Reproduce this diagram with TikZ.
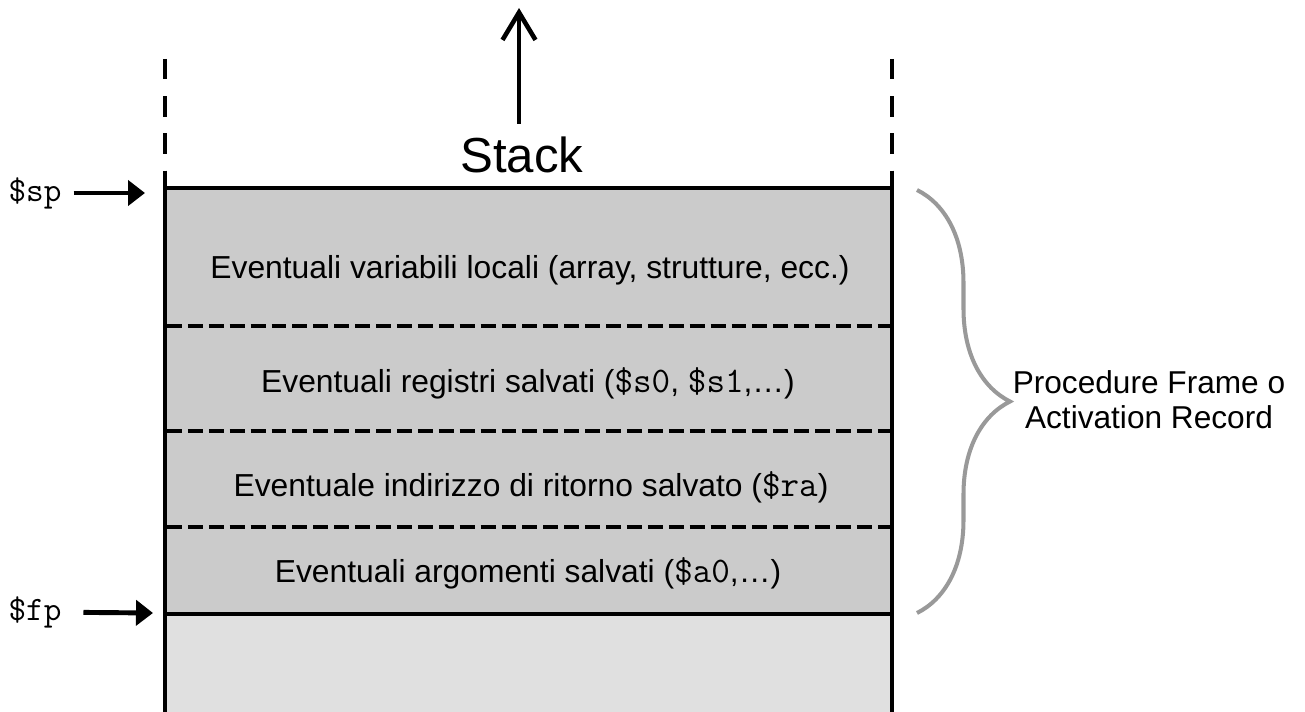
\documentclass[tikz,border=0pt]{standalone}
\usepackage{fontspec}
\setmainfont{Liberation Sans}
\usetikzlibrary{arrows.meta,decorations.pathreplacing,positioning}
\definecolor{FrameInk}{HTML}{000000}
\definecolor{FrameFill}{HTML}{CBCBCB}
\definecolor{FrameLight}{HTML}{E0E0E0}
\definecolor{BraceGray}{HTML}{999999}
\newcommand{\regname}[1]{{\fontsize{20.5}{22}\selectfont\ttfamily #1}}
\tikzset{
  every node/.style={text=FrameInk},
  wall/.style={draw=FrameInk, line width=2.8pt},
  openwall/.style={draw=FrameInk, line width=2.8pt, dash pattern=on 11.6pt off 9.6pt},
  divider/.style={draw=FrameInk, line width=2.8pt, dash pattern=on 8.5pt off 3.4pt},
  slot/.style={font=\fontsize{18.1}{22}\selectfont},
  register/.style={font=\fontsize{19.5}{22}\selectfont\ttfamily},
  pointer/.style={-{Triangle[length=3.4mm,width=5mm]}, draw=FrameInk, line width=2.8pt},
  growth/.style={-{Straight Barb[length=5.5mm,width=6.6mm]}, draw=FrameInk, line width=2.6pt},
  bracket/.style={decorate, decoration={brace, amplitude=18.6mm}, draw=BraceGray, line width=2.3pt},
}

\begin{document}
\begin{tikzpicture}[x=0.02cm,y=-0.02cm]
  \useasboundingbox (0,0) rectangle (1305,712);
  % Frame cells, dark above the frame pointer, light below
  \fill[FrameFill] (165,188) rectangle (892,614);
  \fill[FrameLight] (165,614) rectangle (892,712);
  % Stack walls, open towards the top
  \foreach \x in {165,892}{
    \draw[openwall] (\x,59) -- (\x,171);
    \draw[wall] (\x,171) -- (\x,712);
  }
  % Frame limits
  \draw[wall] (165,188) -- (892,188);
  \draw[wall] (165,614) -- (892,614);
  % Slot dividers
  \foreach \y in {326,431,527}
    \draw[divider] (167,\y) -- (890,\y);
  % Slot contents
  \node[slot] (locals) at (530,270) {Eventuali variabili locali (array, strutture, ecc.)};
  \node[slot] (saved) at (528,383) {Eventuali registri salvati (\regname{\$s0}, \regname{\$s1},\dots)};
  \node[slot] (retaddr) at (531,487) {Eventuale indirizzo di ritorno salvato (\regname{\$ra})};
  \node[slot] (args) at (528,573) {Eventuali argomenti salvati (\regname{\$a0},\dots)};
  % Growth direction
  \node[font=\fontsize{28}{32}\selectfont] (stack) at (522,155) {Stack};
  \coordinate (growtop) at (519,8);
  \draw[growth, shorten <=4pt] (stack.north -| growtop) -- (growtop);
  % Registers pointing at the frame
  \node[register] (sp) at (35,193) {\$sp};
  \node[register] (fp) at (35,612) {\$fp};
  \coordinate (sptip) at (145,193);
  \coordinate (fptip) at (153,613);
  \draw[pointer, shorten <=3.4pt] (sp) -- (sptip);
  \draw[pointer, shorten <=9pt] (fp) -- (fptip);
  % Frame brace and its name
  \coordinate (bracetop) at (917,190);
  \coordinate (bracebot) at (917,613);
  \draw[bracket] (bracetop) -- (bracebot);
  \node[font=\fontsize{18}{20}\selectfont, align=center] (record) at (1149,400)
    {Procedure Frame o\\Activation Record};
\end{tikzpicture}
\end{document}
